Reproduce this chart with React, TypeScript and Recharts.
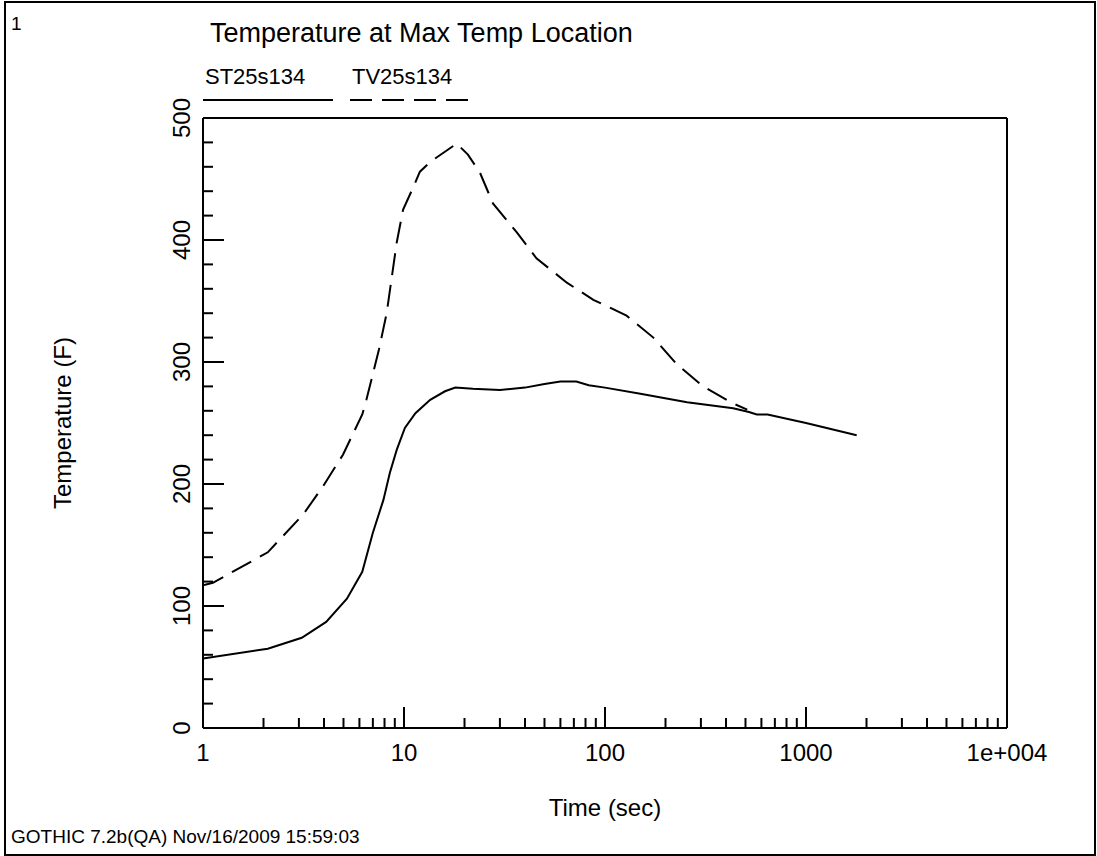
import { Legend, Line, LineChart, ReferenceLine, XAxis, YAxis } from "recharts";

const FONT = '"Liberation Sans", Arial, sans-serif';

// ST25s134 (solid)
const stTime = [1, 2.1, 3.1, 4.1, 5.2, 6.2, 7.0, 7.9, 8.5, 9.2, 10.1, 11.4, 13.5, 16, 18, 22, 30, 40, 50, 60, 72, 83, 100, 150, 256, 434, 520, 569, 644, 1000, 1787];
const stTemp = [57, 65, 74, 87, 106, 128, 160, 187, 209, 228, 246, 258, 269, 276, 279, 278, 277, 279, 282, 284, 284, 281, 279, 274, 267, 262, 259, 257, 257, 250, 240];

// TV25s134 (dashed)
const tvTime = [1, 1.12, 2.1, 3.15, 3.95, 4.97, 6.2, 6.5, 7.5, 8.2, 9.2, 9.9, 11.1, 12, 13.5, 18.3, 20.8, 23.9, 27.7, 36.5, 45.6, 64.6, 87.5, 128, 174, 228, 308, 434, 510];
const tvTemp = [117, 119, 144, 175, 198, 224, 257, 269, 310, 340, 398, 425, 443, 456, 464, 479, 470, 455, 430, 406, 385, 365, 351, 338, 320, 298, 280, 266, 261];

const seriesNames = ["ST25s134", "TV25s134"];
const seriesDash = ["", "22 10"];

const decades = [1, 10, 100, 1000];
const timeTicks = [...decades.flatMap((d) => [1, 2, 3, 4, 5, 6, 7, 8, 9].map((k) => d * k)), 10000];
const tempTicks = Array.from({ length: 26 }, (_, i) => i * 20);

const toRows = (t: number[], v: number[]) => t.map((time, i) => ({ time, temp: v[i] }));
const stData = toRows(stTime, stTemp);
const tvData = toRows(tvTime, tvTemp);

const isDecade = (v: number) => Math.abs(Math.log10(v) - Math.round(Math.log10(v))) < 1e-9;
const timeLabel = (v: number) => (v >= 10000 ? "1e+004" : String(v));

const TimeTick = (props: any) => {
  const { x, y, payload } = props;
  const major = isDecade(payload.value);
  return (
    <g>
      <line x1={x} x2={x} y1={y} y2={y - (major ? 21 : 10)} stroke="#000" strokeWidth={2} />
      {major && (
        <text x={x} y={y + 24} textAnchor="middle" dominantBaseline="central" fontSize={24} fontFamily={FONT} fill="#000">
          {timeLabel(payload.value)}
        </text>
      )}
    </g>
  );
};

const TempTick = (props: any) => {
  const { x, y, payload } = props;
  const major = payload.value % 100 === 0;
  const lx = x - 22;
  return (
    <g>
      <line x1={x} x2={x + (major ? 21 : 10)} y1={y} y2={y} stroke="#000" strokeWidth={2} />
      {major && (
        <text
          x={lx}
          y={y}
          transform={`rotate(-90, ${lx}, ${y})`}
          textAnchor="middle"
          dominantBaseline="central"
          fontSize={24}
          fontFamily={FONT}
          fill="#000"
        >
          {payload.value}
        </text>
      )}
    </g>
  );
};

const LegendBox = () => (
  <div style={{ display: "flex", fontFamily: FONT, fontSize: 22, color: "#000" }}>
    {seriesNames.map((name, i) => (
      <div key={name} style={{ width: 147 }}>
        <div style={{ lineHeight: "26px", paddingLeft: 2 }}>{name}</div>
        <svg width={130} height={10} style={{ display: "block", marginTop: 5 }}>
          <line
            x1={0}
            x2={i === 0 ? 130 : 118}
            y1={5}
            y2={5}
            stroke="#000"
            strokeWidth={2}
            strokeDasharray={seriesDash[i] || undefined}
          />
        </svg>
      </div>
    ))}
  </div>
);

export default function App() {
  return (
    <div style={{ position: "absolute", left: 0, top: 0, width: 1097, height: 856, background: "#fff" }}>
      <div
        style={{
          position: "absolute",
          left: 4,
          top: 1,
          width: 1092,
          height: 855,
          border: "2px solid #000",
          boxSizing: "border-box",
        }}
      />
      <div style={{ position: "absolute", left: 11, top: 13, fontFamily: FONT, fontSize: 19 }}>1</div>
      <div style={{ position: "absolute", left: 210, top: 18, fontFamily: FONT, fontSize: 27 }}>
        Temperature at Max Temp Location
      </div>
      <div style={{ position: "absolute", left: 11, top: 826, fontFamily: FONT, fontSize: 19 }}>
        GOTHIC 7.2b(QA) Nov/16/2009 15:59:03
      </div>
      <LineChart width={1097} height={856} data={stData} margin={{ top: 118, right: 90, bottom: 88, left: 143 }}>
        <XAxis
          dataKey="time"
          type="number"
          scale="log"
          domain={[1, 10000]}
          ticks={timeTicks}
          interval={0}
          height={40}
          tickSize={0}
          tickMargin={0}
          tickLine={false}
          tick={<TimeTick />}
          axisLine={{ stroke: "#000", strokeWidth: 2 }}
          allowDataOverflow
          label={{
            content: (p: any) => {
              const vb = p.viewBox;
              return (
                <text x={vb.x + vb.width / 2} y={807} textAnchor="middle" dominantBaseline="central" fontSize={24} fontFamily={FONT} fill="#000">
                  Time (sec)
                </text>
              );
            },
          }}
        />
        <YAxis
          type="number"
          domain={[0, 500]}
          ticks={tempTicks}
          interval={0}
          width={60}
          tickSize={0}
          tickMargin={0}
          tickLine={false}
          tick={<TempTick />}
          axisLine={{ stroke: "#000", strokeWidth: 2 }}
          allowDataOverflow
          label={{
            content: (p: any) => {
              const vb = p.viewBox;
              const cy = vb.y + vb.height / 2;
              return (
                <text
                  x={62}
                  y={cy}
                  transform={`rotate(-90, 62, ${cy})`}
                  textAnchor="middle"
                  dominantBaseline="central"
                  fontSize={24}
                  fontFamily={FONT}
                  fill="#000"
                >
                  Temperature (F)
                </text>
              );
            },
          }}
        />
        <ReferenceLine y={500} stroke="#000" strokeWidth={2} />
        <ReferenceLine x={10000} stroke="#000" strokeWidth={2} />
        <Legend
          layout="horizontal"
          verticalAlign="middle"
          align="center"
          wrapperStyle={{ top: 64, left: 203, width: "auto", height: "auto" }}
          content={<LegendBox />}
        />
        <Line
          data={stData}
          dataKey="temp"
          name={seriesNames[0]}
          type="linear"
          stroke="#000"
          strokeWidth={2}
          dot={false}
          isAnimationActive={false}
        />
        <Line
          data={tvData}
          dataKey="temp"
          name={seriesNames[1]}
          type="linear"
          stroke="#000"
          strokeWidth={2}
          strokeDasharray={seriesDash[1]}
          dot={false}
          isAnimationActive={false}
        />
      </LineChart>
    </div>
  );
}
